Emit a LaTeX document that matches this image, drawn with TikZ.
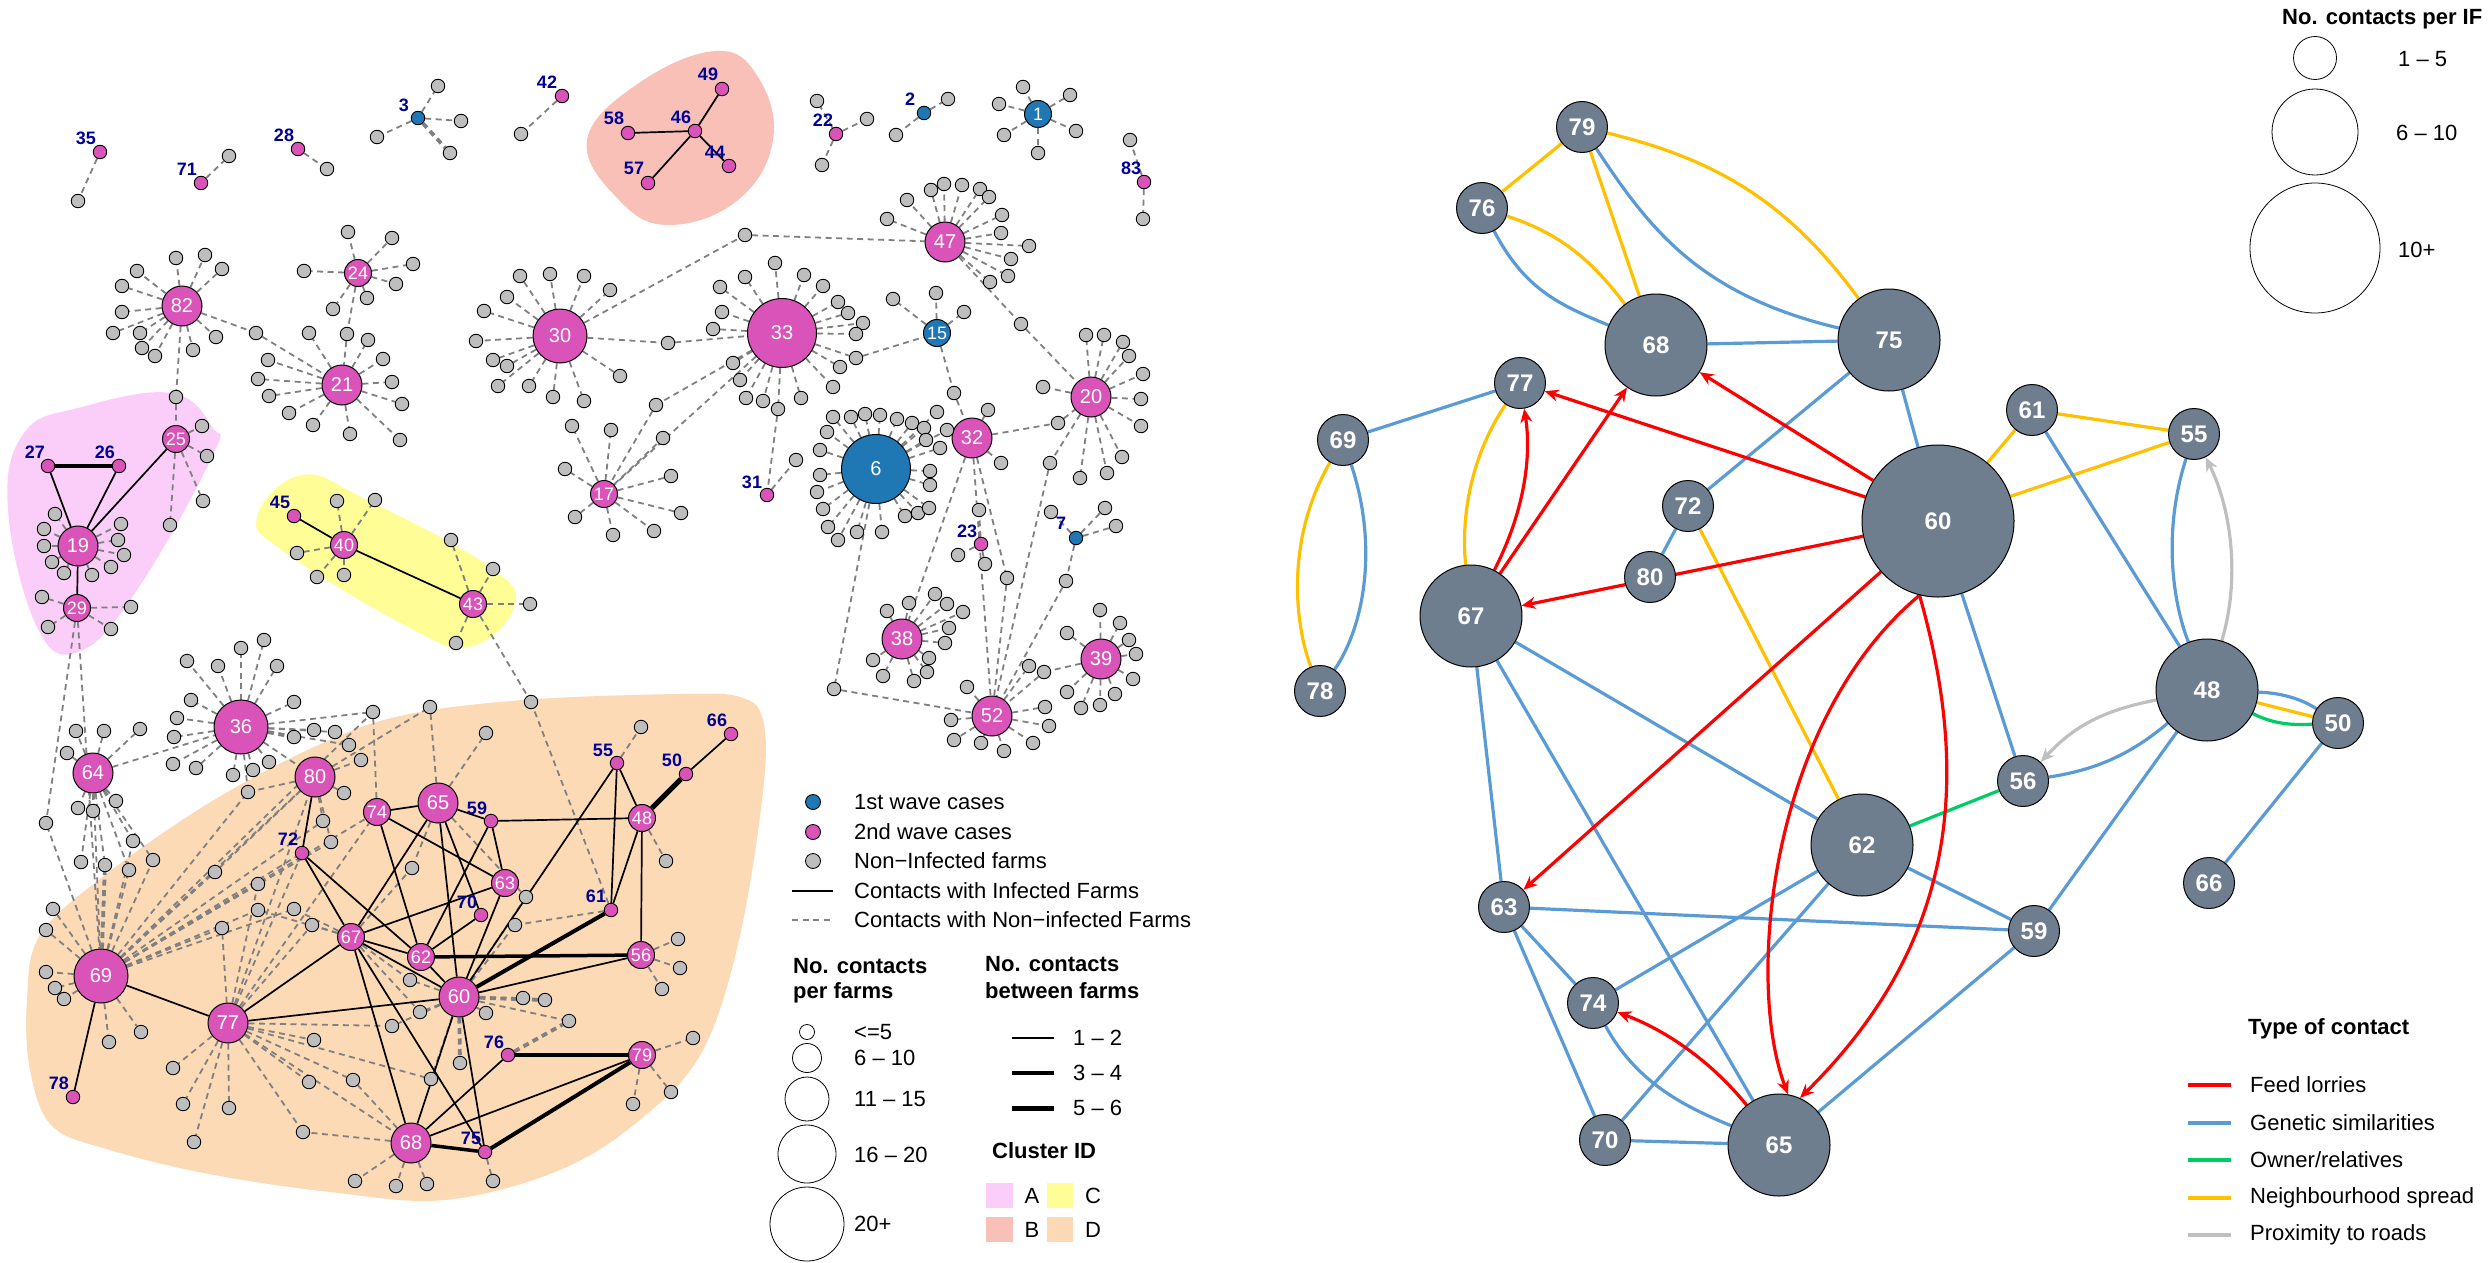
\documentclass[tikz,border=0pt]{standalone}
\usepackage{fontspec}
\setmainfont{Liberation Sans}
\usetikzlibrary{arrows.meta}
\definecolor{mag}{RGB}{217,83,185}
\definecolor{wblue}{RGB}{31,120,180}
\definecolor{gfill}{RGB}{190,190,190}
\definecolor{lblue}{RGB}{0,0,150}
\definecolor{clA}{RGB}{251,206,249}
\definecolor{clB}{RGB}{248,192,183}
\definecolor{clC}{RGB}{255,253,150}
\definecolor{clD}{RGB}{253,218,182}
\definecolor{slate}{RGB}{111,126,143}
\definecolor{cred}{RGB}{255,0,0}
\definecolor{cblue}{RGB}{91,155,213}
\definecolor{cgreen}{RGB}{0,204,102}
\definecolor{corange}{RGB}{255,192,0}
\definecolor{cgrey}{RGB}{191,191,191}
\definecolor{dgrey}{RGB}{128,128,128}
\newcommand\fsz[1]{\fontsize{#1}{#1}\selectfont}
\pgfdeclarelayer{blob}
\pgfdeclarelayer{edge}
\pgfsetlayers{blob,edge,main}
\tikzset{
 gry/.style={circle,draw=black,line width=0.9pt,fill=gfill,inner sep=0pt,minimum size=13.5pt},
 mt/.style={circle,draw=black,line width=0.9pt,fill=mag,inner sep=0pt,minimum size=13.5pt},
 bt/.style={mt,fill=wblue},
 hubS/.style={circle,draw=black,line width=1pt,fill=mag,inner sep=0pt,minimum size=27pt,text=white,font=\fsz{18}},
 hubM/.style={hubS,minimum size=40pt,font=\fsz{20}},
 hubL/.style={hubS,minimum size=54pt,font=\fsz{20}},
 hubX/.style={hubS,minimum size=69pt,font=\fsz{20}},
 blu/.style={fill=wblue},
 lab/.style={text=lblue,font=\bfseries\fsz{18},inner sep=0pt},
 dsh/.style={draw=dgrey,line width=1.8pt,dash pattern=on 6pt off 4.5pt},
 dshk/.style={dsh,line width=3.8pt},
 sol/.style={draw=black,line width=1.7pt},
 rnS/.style={circle,draw=black,line width=1pt,fill=slate,inner sep=0pt,minimum size=51pt,text=white,font=\bfseries\fsz{24}},
 rnM/.style={rnS,minimum size=102pt},
 rnL/.style={rnS,minimum size=152pt},
 feed/.style={draw=cred,line width=3.2pt,-{Stealth[length=14pt,width=12pt]}},
 gen/.style={draw=cblue,line width=3.2pt},
 own/.style={draw=cgreen,line width=3.2pt},
 nbr/.style={draw=corange,line width=3.2pt},
 road/.style={draw=cgrey,line width=3.2pt,-{Stealth[length=14pt,width=12pt]}},
 txt/.style={font=\fsz{22},inner sep=0pt,anchor=west},
 btxt/.style={font=\bfseries\fsz{22},inner sep=0pt,anchor=west},
 lgc/.style={circle,draw=black,line width=0.8pt,inner sep=0pt},
}
\def\satlist{
 L82/176/258, L82/205/255, L82/222/269, L82/137/271, L82/122/286, L82/122/312, L82/113/333, L82/140/333, L82/142/348, L82/155/356, L82/193/350, L82/216/337,
 L24/348/232, L24/392/238, L24/413/264, L24/396/284, L24/367/298, L24/333/309, L24/304/271,
 L21/309/333, L21/368/340, L21/383/359, L21/392/382, L21/402/404, L21/268/360, L21/258/379, L21/269/396, L21/289/413, L21/313/425, L21/350/434, L21/400/440,
 L30/520/276, L30/550/274, L30/584/276, L30/610/290, L30/507/297, L30/484/311, L30/476/341, L30/493/360, L30/507/366, L30/498/386, L30/529/386, L30/553/397, L30/584/401, L30/620/376,
 L33/775/263, L33/745/277, L33/804/275, L33/823/286, L33/720/287, L33/838/302, L33/848/313, L33/722/312, L33/863/323, L33/713/329, L33/856/334, L33/733/363, L33/840/367, L33/740/380, L33/833/387, L33/746/398, L33/763/401, L33/801/398,
 L47/907/200, L47/931/190, L47/944/184, L47/962/185, L47/980/189, L47/989/197, L47/1002/215, L47/1001/233, L47/1029/246, L47/1011/259, L47/1008/276, L47/990/282, L47/887/219,
 L15/893/299, L15/936/293, L15/964/312,
 L20/1086/335, L20/1104/335, L20/1123/342, L20/1129/356, L20/1143/374, L20/1141/399, L20/1141/426, L20/1122/457, L20/1107/473, L20/1080/478, L20/1043/387,
 L6/833/417, L6/851/417, L6/865/414, L6/880/415, L6/897/419, L6/912/423, L6/924/428, L6/926/440, L6/940/448, L6/937/412, L6/947/430, L6/827/432, L6/820/450, L6/820/475, L6/817/492, L6/823/509, L6/828/527, L6/838/540, L6/857/532, L6/882/532, L6/905/516, L6/918/513, L6/929/508, L6/930/485, L6/930/471,
 L32/988/410, L32/1001/463, L31/796/460,
 L17/572/426, L17/611/430, L17/565/469, L17/575/517, L17/613/535, L17/663/438, L17/671/476, L17/681/513, L17/654/531,
 L23/958/555, L23/985/564, L23/979/510, L7/1105/508, L7/1116/526, L7/1051/512,
 L38/887/611, L38/909/603, L38/935/594, L38/947/604, L38/963/612, L38/949/628, L38/945/643, L38/929/658, L38/927/672, L38/914/681, L38/883/676, L38/873/660,
 L39/1100/610, L39/1120/623, L39/1129/640, L39/1136/654, L39/1133/679, L39/1115/694, L39/1100/705, L39/1081/708, L39/1067/692, L39/1067/633,
 L52/967/687, L52/951/720, L52/954/740, L52/981/743, L52/1004/751, L52/1033/743, L52/1049/726, L52/1045/707, L52/1029/666,
 L1/1023/87, L1/1070/95, L1/999/104, L1/1076/131, L1/1004/135, L1/1038/153,
 L2/948/99, L2/896/135, L22/817/101, L22/867/119, L22/822/165, L83/1130/140, L83/1143/219,
 L3/438/86, L3/461/121, L3/377/137, L42/521/134, L35/78/201, L71/229/156, L28/327/169,
 L25/202/426, L25/207/456, L25/203/501, L25/170/525,
 L19/55/514, L19/44/529, L19/44/546, L19/52/562, L19/64/573, L19/92/575, L19/111/567, L19/124/555, L19/118/540, L19/121/524,
 L29/42/597, L29/48/627, L29/111/629, L29/131/607,
 L40/337/501, L40/375/500, L40/297/553, L40/317/577, L40/344/575,
 L43/451/540, L43/493/569, L43/530/604, L43/456/643,
 L36/264/640, L36/241/648, L36/218/666, L36/187/661, L36/277/666, L36/191/700, L36/294/702, L36/177/718, L36/174/737, L36/173/764, L36/196/768, L36/233/775, L36/253/770, L36/269/762, L36/314/730, L36/335/732, L36/349/745,
 L64/76/731, L64/104/731, L64/140/729, L64/67/753, L64/116/801, L64/78/808, L64/93/811}
\def\sharedlist{L82/L21/256/333, L82/L25/176/397, L24/L21/347/334, L30/L33/668/343,
  L30/L47/745/235, L33/L15/856/358, L33/L31/778/409, L33/L17/656/405, L47/L20/1021/324, L15/L32/954/393,
  L32/L20/1058/423, L20/L52/1050/463, L32/L52/1007/578, L6/L52/834/689, L7/L52/1066/581, L39/L52/1044/672}
\begin{document}
\begin{tikzpicture}[x=1pt,y=-1pt]
\useasboundingbox (0,0) rectangle (2489,1263);

% ---------------- cluster blobs ----------------
\begin{pgfonlayer}{blob}
\fill[clA] plot[smooth cycle,tension=0.7] coordinates {(171,393) (212,427) (212,457) (135,593) (78,652) (37,627) (8,510) (24,433) (82,407)};
\fill[clB] plot[smooth cycle,tension=0.7] coordinates {(587,140) (639,83) (716,51) (758,77) (773,140) (738,200) (669,225) (619,200)};
\fill[clC] plot[smooth cycle,tension=0.7] coordinates {(302,475) (367,500) (490,567) (514,607) (469,647) (408,627) (286,553) (257,517)};
\fill[clD] plot[smooth cycle,tension=0.6] coordinates {(27,1000) (40,935) (105,875) (209,803) (314,747) (400,716) (523,700) (680,694) (740,697) (763,720) (763,792) (739,940) (702,1052) (641,1119) (560,1170) (445,1200) (330,1192) (209,1174) (110,1150) (52,1126) (30,1070)};
\end{pgfonlayer}

% ---------------- left hubs ----------------
\node[hubM] (L82) at (182,306) {82};
\node[hubS] (L24) at (358,273) {24};
\node[hubM] (L21) at (342,385) {21};
\node[hubL] (L30) at (560,336) {30};
\node[hubX] (L33) at (782,333) {33};
\node[hubM] (L47) at (945,242) {47};
\node[hubS,blu] (L15) at (937,333) {15};
\node[hubM] (L20) at (1091,397) {20};
\node[hubX,blu] (L6) at (876,469) {6};
\node[hubM] (L32) at (972,438) {32};
\node[hubS] (L17) at (604,494) {17};
\node[hubM] (L38) at (902,639) {38};
\node[hubM] (L39) at (1101,659) {39};
\node[hubM] (L52) at (992,716) {52};
\node[hubS,blu] (L1) at (1038,114) {1};
\node[hubS] (L25) at (176,439) {25};
\node[hubM] (L19) at (78,546) {19};
\node[hubS] (L29) at (77,608) {29};
\node[hubS] (L40) at (344,545) {40};
\node[hubS] (L43) at (473,604) {43};
\node[hubL] (L36) at (241,727) {36};
\node[hubM] (L64) at (93,773) {64};
\node[hubM] (L80) at (315,777) {80};
\node[hubS] (L74) at (377,812) {74};
\node[hubM] (L65) at (438,803) {65};
\node[hubS] (L63) at (505,883) {63};
\node[hubS] (L67) at (351,937) {67};
\node[hubS] (L62) at (421,957) {62};
\node[hubM] (L60) at (459,997) {60};
\node[hubS] (L48) at (642,818) {48};
\node[hubS] (L56) at (641,955) {56};
\node[hubS] (L79) at (642,1055) {79};
\node[hubM] (L68) at (411,1143) {68};
\node[hubM] (L77) at (228,1023) {77};
\node[hubL] (L69) at (101,976) {69};

% ---------------- tiny infected farms with labels ----------------
\foreach \n/\x/\y/\lx/\ly/\s in {35/100/152/86/138/mt, 71/201/183/187/169/mt, 28/298/149/284/135/mt,
  3/418/118/404/105/bt, 42/562/96/547/82/mt, 58/628/133/614/118/mt, 49/722/89/708/74/mt,
  46/695/131/681/117/mt, 44/729/166/715/152/mt, 57/648/183/634/168/mt, 22/836/134/823/120/mt,
  2/924/113/910/99/bt, 83/1144/182/1131/168/mt, 31/767/495/752/482/mt, 23/981/544/967/531/mt,
  7/1076/538/1061/523/bt, 27/48/466/35/452/mt, 26/119/466/105/452/mt, 45/294/516/280/502/mt,
  55/617/763/603/750/mt, 50/686/774/672/760/mt, 66/731/734/717/720/mt, 59/491/821/477/808/mt,
  72/302/853/288/839/mt, 70/481/915/467/902/mt, 61/611/910/596/896/mt, 76/508/1055/494/1042/mt,
  75/485/1152/471/1138/mt, 78/73/1097/59/1083/mt}
{
  \node[\s] (L\n) at (\x,\y) {};
  \node[lab] (t\n) at (\lx,\ly) {\n};
}

% ---------------- non-infected farms ----------------
\foreach \h/\x/\y [count=\i] in \satlist { \node[gry] (g\i) at (\x,\y) {}; }
\node[gry] (k1) at (450,153) {};
\node[gry] (k2) at (294,737) {};
\foreach \a/\b/\x/\y [count=\i] in \sharedlist { \node[gry] (h\i) at (\x,\y) {}; }
\foreach \x/\y [count=\i] in {373/712, 430/707, 486/733, 641/727, 666/861, 678/939, 680/968, 662/989,
  693/1038, 671/1092, 633/1104, 493/1181, 355/1181, 396/1186, 427/1184, 303/1132, 353/1080, 309/1082,
  314/1040, 392/1026, 431/1079, 460/1063, 410/980, 420/1012, 486/1013, 523/998, 545/1000, 569/1021,
  526/897, 515/925, 412/868, 323/821, 331/842, 344/793, 361/760, 248/792, 215/872, 258/884, 222/928,
  258/910, 294/909, 312/925, 46/823, 53/909, 46/930, 133/841, 81/862, 105/865, 129/870, 153/860,
  46/972, 55/988, 64/999, 109/1042, 141/1032, 173/1068, 183/1104, 229/1108, 194/1142, 531/702}
{ \node[gry] (d\i) at (\x,\y) {}; }

\begin{pgfonlayer}{edge}
\foreach \h/\x/\y [count=\i] in \satlist { \draw[dsh] (\h) -- (g\i); }
\foreach \a/\b/\x/\y [count=\i] in \sharedlist { \draw[dsh] (\a) -- (h\i) -- (\b); }
\draw[dshk] (L3) -- (k1);
\draw[dshk] (L36) -- (k2);
\foreach \a/\b in {L36/d1, L74/d1, L69/d1, L65/d2, L80/d2, L65/d3, L55/d4, L48/d5, L56/d6, L56/d7, L56/d8,
  L79/d9, L79/d10, L79/d11, L75/d12, L68/d13, L68/d14, L68/d15, L68/d16, L77/d16, L77/d17, L68/d17,
  L77/d18, L77/d19, L77/d20, L60/d20, L77/d21, L60/d21, L67/d23, L60/d23, L60/d24, L67/d24, L60/d25,
  L60/d26, L60/d28, L60/d29, L65/d29, L60/d30, L61/d30, L67/d31, L65/d31, L80/d32, L69/d32, L80/d33,
  L69/d33, L80/d34, L80/d35, L36/d36, L69/d36, L80/d36, L69/d37, L80/d37, L69/d38, L77/d38, L69/d39,
  L77/d39, L69/d40, L67/d40, L69/d41, L67/d41, L77/d42, L67/d42, L69/d43, L29/d43, L69/d44, L69/d45,
  L64/d46, L69/d46, L64/d47, L64/d48, L64/d49, L69/d49, L64/d50, L69/d50, L69/d51, L69/d52, L69/d53,
  L69/d54, L69/d55, L77/d56, L77/d57, L77/d58, L77/d59, L43/d60, L61/d60,
  L29/L69, L64/L36, L64/L69, L69/L80, L69/L72, L69/L74, L77/L80, L77/L74, L77/L72, L32/L38, L32/L52,
  L33/L17, L77/L68, L36/L80}
  { \draw[dsh] (\a) -- (\b); }
\foreach \a/\b in {L60/d22, L60/d27, L76/d28, L69/d48}
  { \draw[dshk] (\a) -- (\b); }
\foreach \a/\b in {L46/L49, L46/L58, L46/L57, L46/L44, L27/L19, L26/L19, L25/L19, L19/L29, L45/L40, L40/L43,
  L80/L72, L74/L65, L65/L59, L59/L48, L72/L67, L72/L62, L74/L62, L74/L63, L65/L67, L65/L60, L65/L70,
  L59/L62, L59/L63, L63/L67, L63/L60, L70/L62, L67/L62, L67/L60, L67/L77, L67/L68, L67/L75, L62/L60,
  L60/L56, L60/L55, L55/L48, L55/L61, L48/L61, L48/L56, L50/L66, L60/L77, L60/L68, L60/L75, L68/L76,
  L68/L79, L69/L77, L69/L78}
  { \draw[sol] (\a) -- (\b); }
\draw[sol,line width=4pt] (L27) -- (L26);
\draw[sol,line width=3.5pt] (L62) -- (L56);
\draw[sol,line width=4pt] (L60) -- (L61);
\draw[sol,line width=5pt] (L48) -- (L50);
\draw[sol,line width=3.5pt] (L68) -- (L75);
\draw[sol,line width=4pt] (L75) -- (L79);
\draw[sol,line width=4pt] (L76) -- (L79);
\end{pgfonlayer}

% ---------------- left legend ----------------
\node[bt,minimum size=15pt] (lgb) at (813,802) {};
\node[mt,minimum size=15pt] (lgm) at (813,832) {};
\node[gry,minimum size=15pt] (lgg) at (813,861) {};
\node[txt] (lgt1) at (854,802) {1st wave cases};
\node[txt] (lgt2) at (854,832) {2nd wave cases};
\node[txt] (lgt3) at (854,861) {Non−Infected farms};
\node[txt] (lgt4) at (854,891) {Contacts with Infected Farms};
\node[txt] (lgt5) at (854,920) {Contacts with Non−infected Farms};
\draw[sol] (792,891) -- (833,891);
\draw[dsh,line width=1.5pt] (792,920) -- (834,920);
\node[btxt] (lgh1) at (793,966) {No. contacts};
\node[btxt] (lgh2) at (793,993) {per farms};
\node[btxt] (lgh3) at (985,964) {No. contacts};
\node[btxt] (lgh4) at (985,991) {between farms};
\node[lgc,minimum size=15pt] (lc1) at (807,1032) {};
\node[lgc,minimum size=29pt] (lc2) at (807,1058) {};
\node[lgc,minimum size=44pt] (lc3) at (807,1099) {};
\node[lgc,minimum size=58pt] (lc4) at (807,1154) {};
\node[lgc,minimum size=74pt] (lc5) at (807,1224) {};
\node[txt] (lct1) at (854,1032) {<=5};
\node[txt] (lct2) at (854,1058) {6 – 10};
\node[txt] (lct3) at (854,1099) {11 – 15};
\node[txt] (lct4) at (854,1155) {16 – 20};
\node[txt] (lct5) at (854,1224) {20+};
\draw[black,line width=2pt] (1012,1038) -- (1054,1038);
\draw[black,line width=3.5pt] (1012,1073) -- (1054,1073);
\draw[black,line width=5pt] (1012,1108) -- (1054,1108);
\node[txt] (lwt1) at (1073,1038) {1 – 2};
\node[txt] (lwt2) at (1073,1073) {3 – 4};
\node[txt] (lwt3) at (1073,1108) {5 – 6};
\node[btxt] (lci) at (992,1151) {Cluster ID};
\fill[clA] (986,1183) rectangle (1013,1208);
\fill[clC] (1047,1183) rectangle (1073,1208);
\fill[clB] (986,1217) rectangle (1013,1242);
\fill[clD] (1047,1217) rectangle (1073,1242);
\node[font=\fsz{22},inner sep=0pt] (lcA) at (1032,1196) {A};
\node[font=\fsz{22},inner sep=0pt] (lcC) at (1093,1196) {C};
\node[font=\fsz{22},inner sep=0pt] (lcB) at (1032,1230) {B};
\node[font=\fsz{22},inner sep=0pt] (lcD) at (1093,1230) {D};

% ---------------- right panel nodes ----------------
\node[rnS] (R79) at (1582,127) {79};
\node[rnS] (R76) at (1482,208) {76};
\node[rnS] (R77) at (1520,383) {77};
\node[rnS] (R69) at (1343,440) {69};
\node[rnS] (R72) at (1688,506) {72};
\node[rnS] (R80) at (1650,577) {80};
\node[rnS] (R78) at (1320,691) {78};
\node[rnS] (R61) at (2032,410) {61};
\node[rnS] (R55) at (2194,434) {55};
\node[rnS] (R63) at (1504,907) {63};
\node[rnS] (R74) at (1593,1003) {74};
\node[rnS] (R70) at (1605,1140) {70};
\node[rnS] (R56) at (2023,781) {56};
\node[rnS] (R50) at (2338,723) {50};
\node[rnS] (R66) at (2209,883) {66};
\node[rnS] (R59) at (2034,931) {59};
\node[rnM] (R68) at (1656,345) {68};
\node[rnM] (R75) at (1889,340) {75};
\node[rnM] (R67) at (1471,616) {67};
\node[rnM] (R62) at (1862,845) {62};
\node[rnM] (R65) at (1779,1145) {65};
\node[rnM] (R48) at (2207,690) {48};
\node[rnL] (R60) at (1938,521) {60};

\begin{pgfonlayer}{edge}
\draw[nbr] (R79) -- (R76);
\draw[nbr] (R79) -- (R68);
\draw[nbr] (R79) .. controls (1720,160) and (1790,205) .. (R75);
\draw[nbr] (R76) .. controls (1565,235) and (1595,265) .. (R68);
\draw[nbr] (R77) .. controls (1465,465) and (1462,530) .. (R67);
\draw[nbr] (R69) .. controls (1285,540) and (1295,625) .. (R78);
\draw[nbr] (R72) -- (R62);
\draw[nbr] (R60) -- (R61);
\draw[nbr] (R60) -- (R55);
\draw[nbr] (R61) -- (R55);
\draw[nbr] (R48) -- (R50);
\draw[gen] (R79) .. controls (1650,230) and (1700,295) .. (R75);
\draw[gen] (R76) .. controls (1525,290) and (1560,305) .. (R68);
\draw[gen] (R68) -- (R75);
\draw[gen] (R69) -- (R77);
\draw[gen] (R69) .. controls (1378,545) and (1365,625) .. (R78);
\draw[gen] (R75) -- (R72);
\draw[gen] (R75) -- (R60);
\draw[gen] (R72) -- (R80);
\draw[gen] (R61) -- (R48);
\draw[gen] (R55) .. controls (2163,530) and (2172,600) .. (R48);
\draw[gen] (R60) -- (R56);
\draw[gen] (R48) .. controls (2130,755) and (2095,770) .. (R56);
\draw[gen] (R48) -- (R59);
\draw[gen] (R48) .. controls (2280,693) and (2300,698) .. (R50);
\draw[gen] (R50) -- (R66);
\draw[gen] (R67) -- (R62);
\draw[gen] (R67) -- (R63);
\draw[gen] (R67) -- (R65);
\draw[gen] (R63) -- (R59);
\draw[gen] (R63) -- (R74);
\draw[gen] (R63) -- (R70);
\draw[gen] (R62) -- (R74);
\draw[gen] (R62) -- (R70);
\draw[gen] (R62) -- (R59);
\draw[gen] (R70) -- (R65);
\draw[gen] (R65) -- (R59);
\draw[gen] (R74) .. controls (1635,1080) and (1680,1105) .. (R65);
\draw[own] (R62) -- (R56);
\draw[own] (R48) .. controls (2275,725) and (2295,725) .. (R50);
\draw[road] (R48) .. controls (2240,580) and (2232,510) .. (R55);
\draw[road] (R48) .. controls (2105,710) and (2075,725) .. (R56);
\draw[feed] (R60) -- (R77);
\draw[feed] (R60) -- (R68);
\draw[feed] (R60) -- (R67);
\draw[feed] (R67) -- (R68);
\draw[feed] (R67) .. controls (1530,500) and (1530,445) .. (R77);
\draw[feed] (R60) -- (R63);
\draw[feed] (R60.256) .. controls (1770,720) and (1745,980) .. (R65.80);
\draw[feed] (R60.256) .. controls (1975,790) and (1950,950) .. (R65.66);
\draw[feed] (R65) .. controls (1710,1060) and (1665,1030) .. (R74);
\end{pgfonlayer}

% ---------------- right legends ----------------
\node[btxt] (rlh) at (2282,19) {No. contacts per IF};
\node[lgc,minimum size=43pt] (rc1) at (2315,58) {};
\node[lgc,minimum size=86pt] (rc2) at (2315,132) {};
\node[lgc,minimum size=130pt] (rc3) at (2315,248) {};
\node[txt] (rct1) at (2398,59) {1 – 5};
\node[txt] (rct2) at (2396,133) {6 – 10};
\node[txt] (rct3) at (2398,250) {10+};

\node[btxt] (tch) at (2248,1029) {Type of contact};
\draw[cred,line width=3.5pt] (2188,1085) -- (2231,1085);
\draw[cblue,line width=3.5pt] (2188,1123) -- (2231,1123);
\draw[cgreen,line width=3.5pt] (2188,1160) -- (2231,1160);
\draw[corange,line width=3.5pt] (2188,1198) -- (2231,1198);
\draw[cgrey,line width=3.5pt] (2188,1235) -- (2231,1235);
\node[txt] (tc1) at (2250,1085) {Feed lorries};
\node[txt] (tc2) at (2250,1123) {Genetic similarities};
\node[txt] (tc3) at (2250,1160) {Owner/relatives};
\node[txt] (tc4) at (2250,1198) {Neighbourhood spread};
\node[txt] (tc5) at (2250,1235) {Proximity to roads};
\end{tikzpicture}
\end{document}
